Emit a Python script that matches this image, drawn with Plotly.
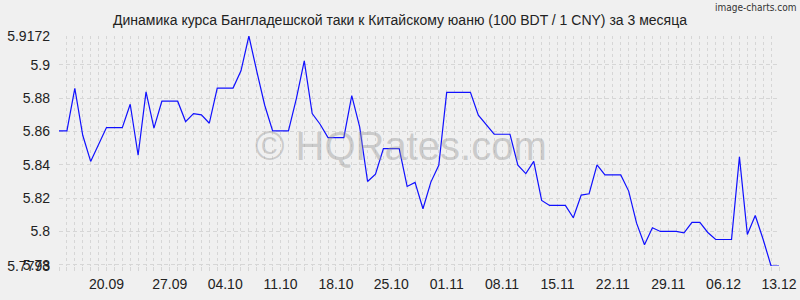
import pandas as pd
import plotly.graph_objects as go

title = "Динамика курса Бангладешской таки к Китайскому юаню (100 BDT / 1 CNY) за 3 месяца"

start_date = "2025-09-13"
rates = [
    5.8603, 5.8603, 5.8858, 5.8577, 5.8420, 5.8520, 5.8623, 5.8623, 5.8623, 5.8763,
    5.8457, 5.8837, 5.8620, 5.8781, 5.8781, 5.8781, 5.8659, 5.8707, 5.8699, 5.8649,
    5.8860, 5.8860, 5.8860, 5.8963, 5.9172, 5.8960, 5.8757, 5.8603, 5.8603, 5.8603,
    5.8797, 5.9023, 5.8707, 5.8643, 5.8563, 5.8563, 5.8563, 5.8815, 5.8627, 5.8300,
    5.8343, 5.8497, 5.8497, 5.8497, 5.8270, 5.8294, 5.8136, 5.8296, 5.8397, 5.8834,
    5.8834, 5.8834, 5.8834, 5.8697, 5.8643, 5.8583, 5.8583, 5.8583, 5.8397, 5.8347,
    5.8420, 5.8186, 5.8156, 5.8156, 5.8156, 5.8082, 5.8218, 5.8226, 5.8399, 5.8339,
    5.8339, 5.8339, 5.8242, 5.8050, 5.7920, 5.8022, 5.8000, 5.8000, 5.8000, 5.7992,
    5.8054, 5.8054, 5.7994, 5.7952, 5.7952, 5.7952, 5.8447, 5.7982, 5.8096, 5.7952,
    5.7793, 5.7793,
]
dates = pd.date_range(start_date, periods=len(rates), freq="D")

x_tick_vals = ["2025-09-19", "2025-09-27", "2025-10-04", "2025-10-11", "2025-10-18",
               "2025-10-25", "2025-11-01", "2025-11-08", "2025-11-15", "2025-11-22",
               "2025-11-29", "2025-12-06", "2025-12-13"]
x_tick_text = ["20.09", "27.09", "04.10", "11.10", "18.10", "25.10", "01.11",
               "08.11", "15.11", "22.11", "29.11", "06.12", "13.12"]

y_min = 5.7793
y_max = 5.9172
y_tick_vals = [y_min, 5.78, 5.80, 5.82, 5.84, 5.86, 5.88, 5.90, y_max]
y_tick_text = ["5.7793", "5.78", "5.8", "5.82", "5.84", "5.86", "5.88", "5.9", "5.9172"]

bg = "#f0f0f0"
grid = "#d6d6d6"
font_family = "Liberation Sans, Arial, sans-serif"

fig = go.Figure()
fig.add_trace(go.Scatter(x=dates, y=rates, mode="lines",
                         line=dict(color="#1010ff", width=1.2),
                         hoverinfo="skip", showlegend=False))

fig.update_layout(
    width=800, height=300,
    margin=dict(l=59, r=21, t=36, b=34, autoexpand=False),
    paper_bgcolor=bg, plot_bgcolor=bg,
    font=dict(family=font_family, size=14, color="#222222"),
    title=dict(text=title, x=0.5, xanchor="center", y=0.932, yanchor="middle",
               font=dict(family=font_family, size=14, color="#222222")),
    showlegend=False,
)

fig.update_xaxes(
    range=[dates[0], dates[-1]], automargin=False,
    tickvals=x_tick_vals, ticktext=x_tick_text,
    showgrid=False, zeroline=False, showline=False,
    ticks="", ticklabelstandoff=8,
    minor=dict(dtick=86400000, tick0=start_date, showgrid=True, gridcolor=grid,
               griddash="3px,3px", gridwidth=1, ticks="outside", ticklen=4,
               tickcolor=grid),
    tickfont=dict(size=14, color="#222222"),
)

fig.update_yaxes(
    range=[y_min, y_max], automargin=False,
    tickvals=y_tick_vals, ticktext=y_tick_text,
    showgrid=True, gridcolor=grid, griddash="4px,3px", gridwidth=1,
    zeroline=False, showline=False, ticks="", ticklabelstandoff=8,
    tickfont=dict(size=14, color="#222222"),
)

fig.add_annotation(text="© HQRates.com", xref="paper", yref="paper", x=0.475, y=0.52,
                   showarrow=False,
                   font=dict(family=font_family, size=40, color="rgba(150,150,150,0.42)"))

fig.add_annotation(text="image-charts.com", xref="paper", yref="paper", x=1.0, y=1.0,
                   xanchor="right", yanchor="top", showarrow=False,
                   yshift=36, xshift=19,
                   font=dict(family="DejaVu Sans Condensed, DejaVu Sans, sans-serif",
                             size=10, color="#333333"))

fig.write_html("out.html")
